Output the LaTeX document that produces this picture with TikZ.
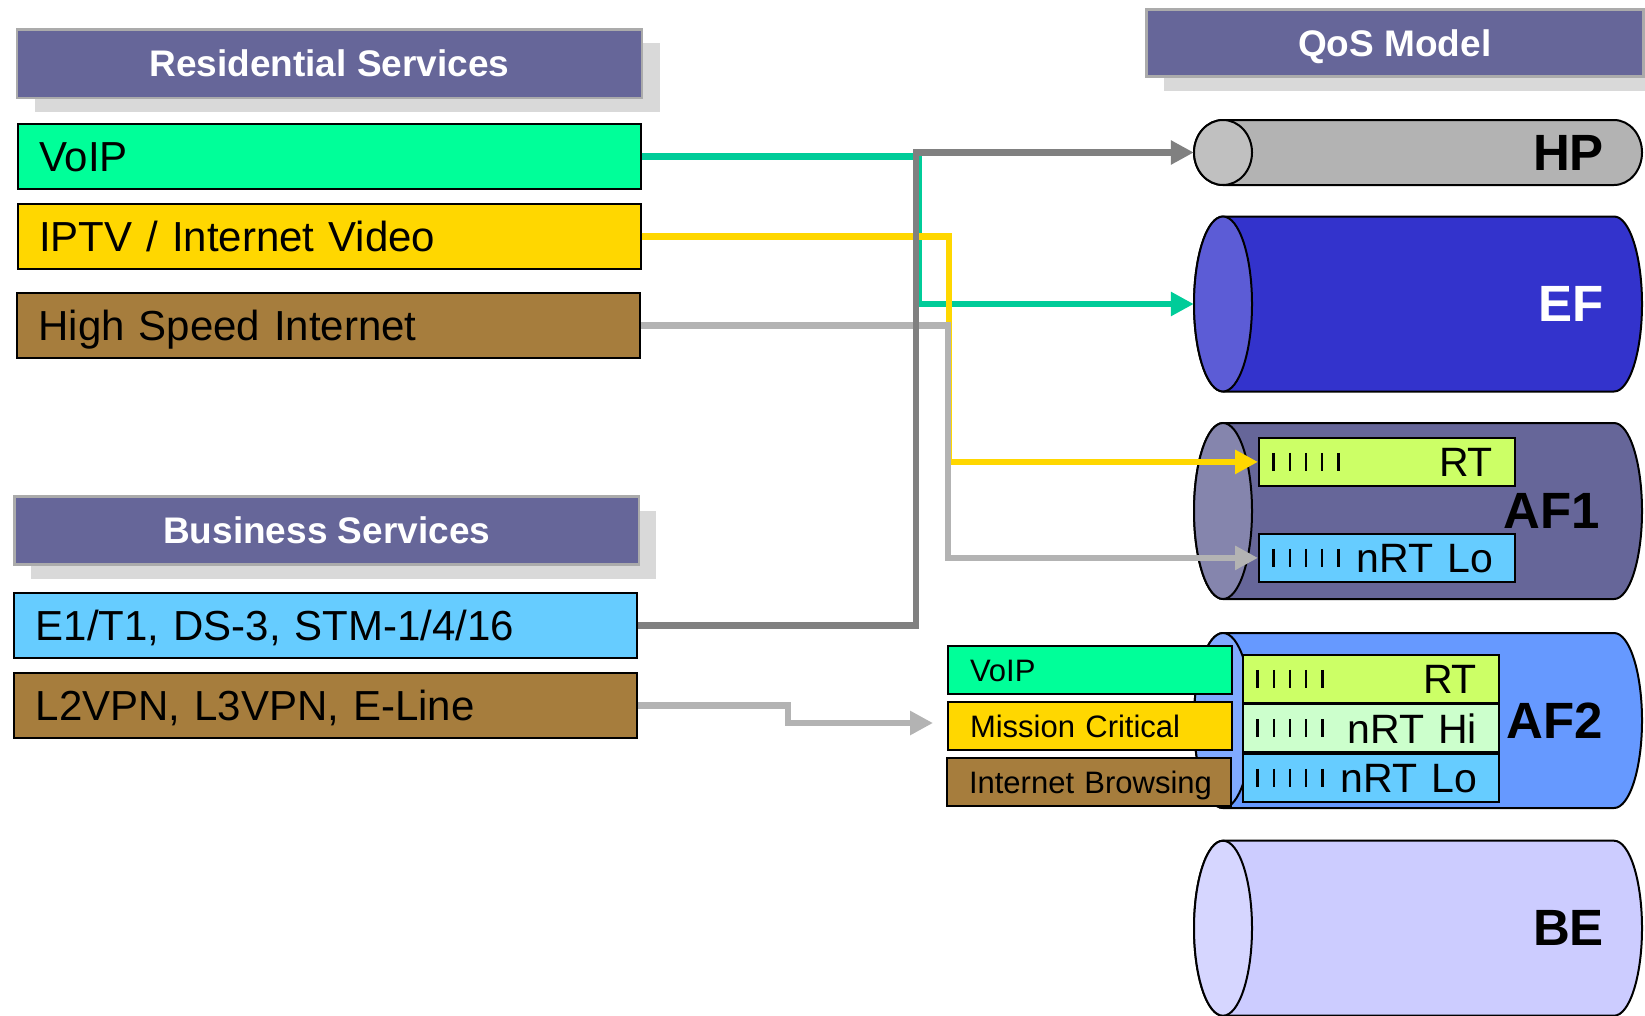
\documentclass[tikz,border=0pt]{standalone}
\usepackage{fontspec}
\setmainfont{Liberation Sans}
\usetikzlibrary{arrows.meta,calc}

\definecolor{hdrfill}{HTML}{666699}
\definecolor{hdrline}{HTML}{ABABAB}
\definecolor{hdrshadow}{HTML}{D9D9D9}
\definecolor{voipgreen}{HTML}{00FF99}
\definecolor{videoyellow}{HTML}{FFD700}
\definecolor{netbrown}{HTML}{A67D3D}
\definecolor{tdmblue}{HTML}{66CCFF}
\definecolor{rtlime}{HTML}{CCFF66}
\definecolor{hipale}{HTML}{CCFFCC}
\definecolor{lngreen}{HTML}{00CC99}
\definecolor{lndark}{HTML}{808080}
\definecolor{lnlight}{HTML}{B3B3B3}
\definecolor{hpbody}{HTML}{B3B3B3}
\definecolor{hpend}{HTML}{C0C0C0}
\definecolor{efbody}{HTML}{3333CC}
\definecolor{efend}{HTML}{5C5CD6}
\definecolor{afonebody}{HTML}{666699}
\definecolor{afoneend}{HTML}{8585AD}
\definecolor{aftwobody}{HTML}{6699FF}
\definecolor{aftwoend}{HTML}{80AAFF}
\definecolor{bebody}{HTML}{CCCCFF}
\definecolor{beend}{HTML}{D6D6FF}

\tikzset{
  hdr/.style={draw=hdrline, line width=2.5pt, fill=hdrfill, text=white,
    inner sep=0pt, anchor=north west, text height=26.5pt, text depth=0pt,
    font=\bfseries\fontsize{37}{43}\selectfont},
  svc/.style={draw=black, line width=2pt, anchor=north west,
    inner xsep=21.5pt, inner ysep=0pt, text width=580pt, align=left,
    minimum height=65pt, text height=30pt, text depth=0pt,
    font=\fontsize{42}{48}\selectfont},
  queue/.style={draw=black, line width=1.8pt, anchor=north west,
    inner xsep=22pt, inner ysep=0pt, text width=212pt, align=right,
    minimum height=48pt, text height=29.5pt, text depth=0pt,
    font=\fontsize{41}{48}\selectfont},
  tinysvc/.style={draw=black, line width=2pt, anchor=north west,
    inner xsep=22pt, inner ysep=0pt, text width=240pt, align=left,
    minimum height=48pt, text height=22pt, text depth=0pt,
    font=\fontsize{31}{36}\selectfont},
  pipeedge/.style={draw=black, line width=2pt},
  pipearea/.style={inner sep=0pt, minimum width=449pt},
  pipelabel/.style={anchor=east, inner sep=0pt,
    font=\bfseries\fontsize{51}{60}\selectfont},
  tickmark/.style={line width=2.2pt, black},
  flow/.style={line width=6.5pt, -{Triangle[length=23pt,width=23pt]}},
}

% a horizontal pipe: name, centre y, half height, body colour, end colour
\newcommand\cylpipe[5]{%
  \filldraw[pipeedge, fill=#4] (1223,#2-#3) -- (1614,#2-#3)
    arc[start angle=-90, end angle=90, x radius=28, y radius=#3]
    -- (1223,#2+#3)
    arc[start angle=90, end angle=270, x radius=29, y radius=#3] -- cycle;
  \filldraw[pipeedge, fill=#5] (1223,#2) ellipse[x radius=29, y radius=#3];
  \node[pipearea, minimum height=2*#3] (#1) at (1418.5,#2) {};
}

% five queue marks at the left of a queue box
\newcommand\queueticks[1]{%
  \foreach \k in {0,...,4}{%
    \draw[tickmark] ($(#1.west)+(15.5+16.25*\k,-9)$) -- ++(0,18);}%
}

\begin{document}
\begin{tikzpicture}[x=1pt, y=-1pt]
\useasboundingbox (0,0) rectangle (1645,1015);

% header bars with their shadows
\fill[hdrshadow] (34.6,43) rectangle (659.6,111.5);
\node[hdr, minimum width=625pt, minimum height=68.5pt] (res) at (15.6,28) {Residential Services};
\fill[hdrshadow] (31.3,511) rectangle (655.6,579);
\node[hdr, minimum width=624.3pt, minimum height=68pt] (bus) at (13.3,495) {Business Services};
\fill[hdrshadow] (1164,24) rectangle (1661,91);
\node[hdr, minimum width=497pt, minimum height=67pt] (qos) at (1145,8) {QoS Model};

% service boxes
\node[svc, fill=voipgreen] (voip) at (16.5,123) {VoIP};
\node[svc, fill=videoyellow] (iptv) at (16.5,203) {IPTV / Internet Video};
\node[svc, fill=netbrown] (hsi) at (16,292) {High Speed Internet};
\node[svc, fill=tdmblue] (tdm) at (13.3,592) {E1/T1, DS-3, STM-1/4/16};
\node[svc, fill=netbrown] (vpn) at (13.3,672) {L2VPN, L3VPN, E-Line};

% QoS pipes
\cylpipe{hp}{152.5}{32.5}{hpbody}{hpend}
\cylpipe{ef}{304}{87.5}{efbody}{efend}
\cylpipe{afone}{511}{88}{afonebody}{afoneend}
\cylpipe{aftwo}{720.5}{87.5}{aftwobody}{aftwoend}
\cylpipe{be}{928.2}{87.5}{bebody}{beend}

\node[pipelabel, text=black] at ([xshift=-39pt]hp.east) {HP};
\node[pipelabel, text=white] at ([xshift=-39pt]ef.east) {EF};
\node[pipelabel, text=black] at ([xshift=-43pt]afone.east) {AF1};
\node[pipelabel, text=black] at ([xshift=-40pt]aftwo.east) {AF2};
\node[pipelabel, text=black] at ([xshift=-39pt]be.east) {BE};

% AF1 queues
\node[queue, fill=rtlime] (rtA) at (1258,437) {RT};
\node[queue, fill=tdmblue] (loA) at (1258,533) {nRT Lo};
\queueticks{rtA}
\queueticks{loA}

% AF2 queues
\node[queue, fill=rtlime, minimum height=47.7pt] (rtB) at (1242,654) {RT};
\node[queue, fill=hipale, minimum height=47.7pt] (hiB) at (rtB.south west) {nRT Hi};
\node[queue, fill=tdmblue, minimum height=47.7pt] (loB) at (hiB.south west) {nRT Lo};
\queueticks{rtB}
\queueticks{hiB}
\queueticks{loB}

% business traffic classes feeding AF2
\node[tinysvc, fill=voipgreen] (bvoip) at (947,645) {VoIP};
\node[tinysvc, fill=videoyellow] (mc) at (947,701) {Mission Critical};
\node[tinysvc, fill=netbrown] (ib) at (946,757) {\mbox{Internet Browsing}};

% service to class mapping
\draw[flow, lngreen] (voip.east) -| (918.5,0 |- ef.west) -- (ef.west);
\draw[flow, videoyellow] (iptv.east) -| (949,0 |- rtA.west) -- (rtA.west);
\draw[flow, lnlight] (hsi.east) -| (948,0 |- loA.west) -- (loA.west);
\draw[flow, lndark] (tdm.east) -| (916,0 |- hp.west) -- (hp.west);
\coordinate (vpntip) at ([xshift=-14pt, yshift=3pt]mc.west);
\draw[flow, lnlight] (vpn.east) -| (788,0 |- vpntip) -- (vpntip);
\end{tikzpicture}
\end{document}
